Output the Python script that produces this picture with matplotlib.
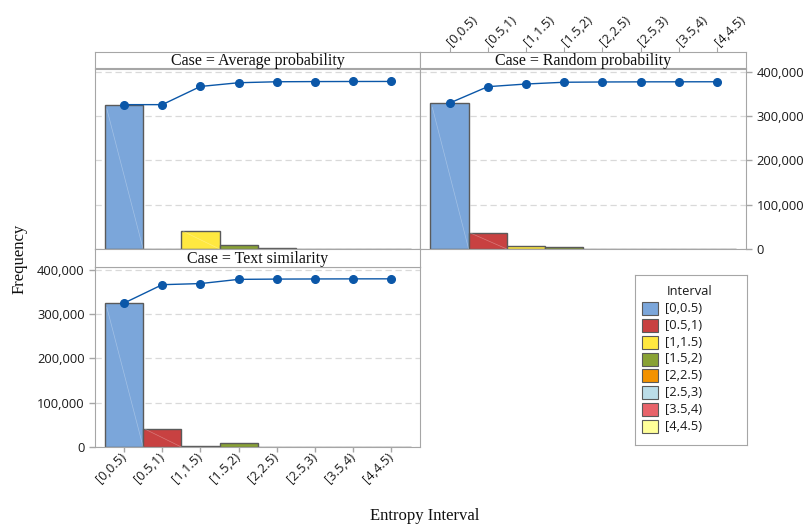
import numpy as np
import matplotlib
matplotlib.use('Agg')
import matplotlib.pyplot as plt
from matplotlib.patches import Rectangle
from matplotlib.ticker import FuncFormatter

intervals = ['[0,0.5)', '[0.5,1)', '[1,1.5)', '[1.5,2)', '[2,2.5)', '[2.5,3)', '[3.5,4)', '[4,4.5)']
colors = ['#7BA6DA', '#C84141', '#FFE840', '#89A235', '#F39200', '#BBDDE8', '#E8636A', '#FFFF99']

avg_prob = [325500, 0, 41000, 8400, 2200, 400, 200, 100]
rand_prob = [329000, 37000, 6000, 4000, 600, 300, 100, 100]
text_sim = [324500, 41500, 2500, 9500, 600, 300, 200, 100]
cases = ['Average probability', 'Random probability', 'Text similarity']
yticks = [0, 100000, 200000, 300000, 400000]

W, H = 804, 525
SANS = 'Open Sans'
SERIF = 'Liberation Serif'
FRAME = '#a6a6a6'
LINE = '#0B57A8'
TS = 9.3

fig = plt.figure(figsize=(W / 100, H / 100), dpi=100)


def rect(x0, y0, x1, y1):
    return [x0 / W, 1 - y1 / H, (x1 - x0) / W, (y1 - y0) / H]


panels = [
    (avg_prob, cases[0], (95, 68.5, 420.5, 249), (95, 51.7, 420.5, 68.5), 'none'),
    (rand_prob, cases[1], (420.5, 68.5, 746, 249), (420.5, 51.7, 746, 68.5), 'right'),
    (text_sim, cases[2], (95, 266.5, 420.5, 447), (95, 249, 420.5, 266.5), 'left'),
]

x = np.arange(len(intervals))
fmt = FuncFormatter(lambda v, p: f'{v:,.0f}')

for vals, case, prect, srect, side in panels:
    ax = fig.add_axes(rect(*prect))
    sax = fig.add_axes(rect(*srect))
    vals = np.array(vals)
    ax.bar(x, vals, width=1.0, color=colors, edgecolor='#5a5a5a', linewidth=1.0, zorder=2)
    for xi, v in zip(x, vals):
        if v > 20000:
            ax.plot([xi - 0.45, xi + 0.5], [v * 0.97, 0], color='white', alpha=0.3, lw=0.5, zorder=3)
    ax.plot(x, np.cumsum(vals), color=LINE, lw=1.0, marker='o', ms=5.5, zorder=4)
    ax.set_xlim(-0.76, 7.76)
    ax.set_ylim(0, 407000)
    ax.set_yticks(yticks)
    ax.yaxis.set_major_formatter(fmt)
    ax.set_xticks(x)
    ax.set_xticklabels(intervals)
    ax.yaxis.grid(True, linestyle=(0, (5, 3)), color='#d9d9d9', lw=0.9)
    ax.set_axisbelow(True)
    for sp in ax.spines.values():
        sp.set_color(FRAME)
    ax.tick_params(length=0, labelleft=False, labelbottom=False, colors=FRAME,
                   labelcolor='#1a1a1a', labelsize=TS)

    sax.set_xlim(-0.76, 7.76)
    sax.set_yticks([])
    sax.set_xticks([])
    for sp in sax.spines.values():
        sp.set_color(FRAME)
    sax.text(0.5, 0.45, f'Case = {case}', transform=sax.transAxes, ha='center', va='center',
             family=SERIF, fontsize=11.5, color='#111111')

    if side == 'right':
        ax.yaxis.tick_right()
        ax.tick_params(axis='y', right=True, labelright=True, length=4.5, width=1, pad=3)
        for t in ax.get_yticklabels():
            t.set_family(SANS)
        sax.xaxis.tick_top()
        sax.set_xticks(x)
        sax.set_xticklabels(intervals, rotation=45, ha='left', va='center', rotation_mode='anchor',
                            family=SANS, fontsize=TS, color='#1a1a1a')
        sax.tick_params(axis='x', top=True, length=3.5, colors=FRAME, labelcolor='#1a1a1a', pad=2)
    elif side == 'left':
        ax.tick_params(axis='y', left=True, labelleft=True, length=4.5, width=1, pad=3)
        ax.tick_params(axis='x', bottom=True, labelbottom=True, length=3.5, width=1, pad=2)
        for t in ax.get_yticklabels():
            t.set_family(SANS)
        ax.set_xticklabels(intervals, rotation=45, ha='right', va='center', rotation_mode='anchor',
                           family=SANS, fontsize=TS)

# legend drawn manually
lax = fig.add_axes(rect(635, 275, 747, 445))
lax.set_xlim(635, 747)
lax.set_ylim(445, 275)
lax.set_xticks([])
lax.set_yticks([])
for sp in lax.spines.values():
    sp.set_color(FRAME)
lax.text(690, 291.5, 'Interval', ha='center', va='center', family=SANS, fontsize=TS, color='#1a1a1a')
for i, (lab, c) in enumerate(zip(intervals, colors)):
    yc = 308.3 + 16.9 * i
    lax.add_patch(Rectangle((642, yc - 6.5), 16.5, 13, facecolor=c, edgecolor='#5a5a5a', lw=0.8))
    lax.text(665, yc, lab, ha='left', va='center', family=SANS, fontsize=TS, color='#1a1a1a')

fig.text(20 / W, 1 - 259 / H, 'Frequency', rotation=90, ha='center', va='center',
         family=SERIF, fontsize=12, color='#111111')
fig.text(425 / W, 1 - 516 / H, 'Entropy Interval', ha='center', va='center',
         family=SERIF, fontsize=12, color='#111111')

fig.savefig('out.png', dpi=100)
